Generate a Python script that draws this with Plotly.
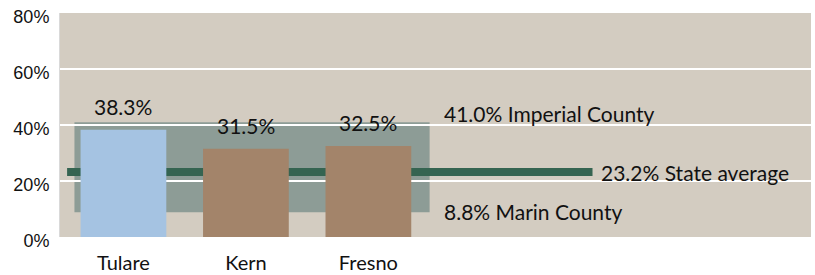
import plotly.graph_objects as go

counties = ["Tulare", "Kern", "Fresno"]
rates = [38.3, 31.5, 32.5]
bar_colors = ["#a5c3e2", "#a3846a", "#a3846a"]

state_avg = 23.2
high_val = 41.0
high_name = "Imperial County"
low_val = 8.8
low_name = "Marin County"

y_ticks = [0, 20, 40, 60, 80]
y_tick_labels = ["0%", "20%", "40%", "60%", "80%"]

xs = list(range(len(counties)))
last = xs[-1]

fig = go.Figure()
fig.add_trace(go.Bar(
    x=xs, y=rates, width=0.70, marker=dict(color=bar_colors, line=dict(width=0)),
    hoverinfo="skip", showlegend=False,
))

# range band (Marin to Imperial)
fig.add_shape(type="rect", xref="x", yref="y", x0=-0.4, x1=last + 0.5,
              y0=low_val, y1=high_val, fillcolor="#8d9c96", line=dict(width=0),
              layer="below")
# state average line
fig.add_shape(type="line", xref="x", yref="y", x0=-0.46, x1=last + 1.83,
              y0=state_avg, y1=state_avg, line=dict(color="#356451", width=8),
              layer="between")

lab_font = dict(family="Lato, 'Open Sans', sans-serif", size=21, color="#111111")

for x, v in zip(xs, rates):
    fig.add_annotation(x=x, y=v, text=f"{v:.1f}%", showarrow=False,
                       xanchor="center", yanchor="bottom", yshift=9, font=lab_font)

fig.add_annotation(x=last + 0.6, y=high_val, text=f"{high_val:.1f}% {high_name}",
                   showarrow=False, xanchor="left", yanchor="bottom", yshift=-6, font=lab_font)
fig.add_annotation(x=last + 1.88, y=state_avg, text=f"{state_avg:.1f}% State average",
                   showarrow=False, xanchor="left", yanchor="middle", font=lab_font)
fig.add_annotation(x=last + 0.6, y=low_val, text=f"{low_val:.1f}% {low_name}",
                   showarrow=False, xanchor="left", yanchor="middle", yshift=1, font=lab_font)

fig.update_layout(
    width=815, height=275,
    margin=dict(l=60, r=4, t=13, b=38),
    paper_bgcolor="white", plot_bgcolor="#d3ccc1",
    showlegend=False,
    xaxis=dict(range=[-0.518, 5.614], tickmode="array", tickvals=xs, ticktext=counties,
               showgrid=False, zeroline=False, showline=False, ticks="",
               ticklabelstandoff=12, automargin=False,
               tickfont=dict(family="Lato, 'Open Sans', sans-serif", size=20, color="#111111")),
    yaxis=dict(range=[0, 80], tickmode="array", tickvals=y_ticks, ticktext=y_tick_labels,
               showgrid=True, gridcolor="white", gridwidth=2, zeroline=False,
               showline=True, linecolor="#d9d9d9", linewidth=1, ticks="",
               ticklabelstandoff=6, ticklabelshift=4, automargin=False,
               ticklabeloverflow="allow",
               tickfont=dict(family="Liberation Sans, Arial, sans-serif", size=18, color="#111111")),
)

fig.write_html("out.html", config={"displayModeBar": False},
               post_script="document.body.style.margin='0px';")
